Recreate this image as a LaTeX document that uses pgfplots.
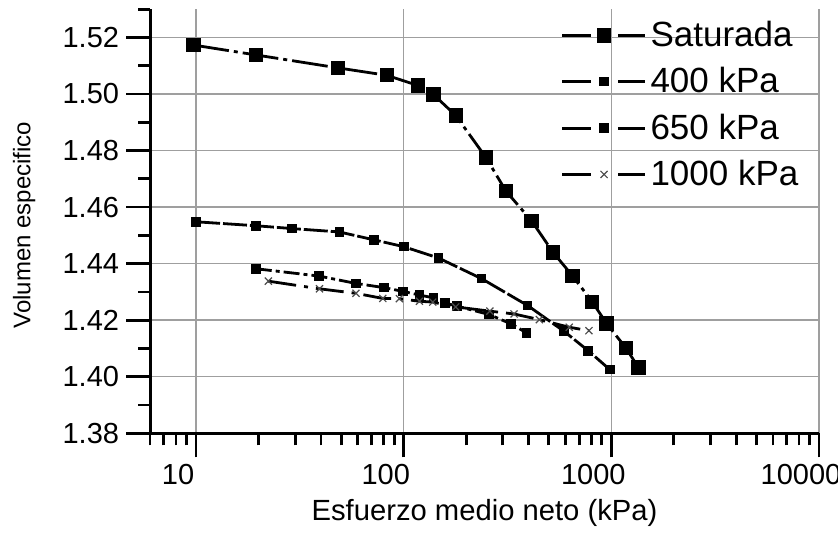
\documentclass[border=0pt]{standalone}
\usepackage{fontspec}
\setmainfont{Liberation Sans}
\usepackage{pgfplots}
\pgfplotsset{compat=1.18}
\begin{document}
\begin{tikzpicture}
\useasboundingbox (-75pt,-52.35pt) rectangle (344pt,216.65pt);
\begin{semilogxaxis}[
 at={(0,0)}, anchor=south west,
 scale only axis, width=334.5pt, height=212.1pt,
 xmin=6, xmax=10000, ymin=1.38, ymax=1.53,
 axis lines*=left,
 axis line style={line width=1.5pt},
 tick align=outside,
 major tick length=12pt, minor tick length=6pt,
 every tick/.style={black, line width=1.4pt},
 xtick={10,100,1000,10000}, xticklabels={10,100,1000,10000},
 minor xtick={6,7,8,9,20,30,40,50,60,70,80,90,200,300,400,500,600,700,800,900,2000,3000,4000,5000,6000,7000,8000,9000},
 ytick={1.38,1.40,1.42,1.44,1.46,1.48,1.50,1.52},
 minor ytick={1.39,1.41,1.43,1.45,1.47,1.49,1.51,1.53},
 yticklabel style={/pgf/number format/.cd, fixed, fixed zerofill, precision=2},
 /pgf/number format/assume math mode=true,
 ticklabel style={font=\fontsize{14.5}{16}\selectfont},
 xticklabel style={xshift=-9pt},
 grid=major,
 major grid style={gray!75, line width=0.7pt},
 xlabel={Esfuerzo medio neto (kPa)},
 x label style={at={(axis description cs:0.5,-0.188)}, anchor=center, font=\fontsize{14.6}{17}\selectfont},
 ylabel={Volumen especifico},
 y label style={at={(axis description cs:-0.188,0.491)}, anchor=center, font=\fontsize{12}{14}\selectfont},
 legend style={at={(axis description cs:0.613,0.982)}, anchor=north west, draw=none, fill=none,
   font=\fontsize{17.5}{20}\selectfont, row sep=5pt, inner sep=0pt},
 legend cell align=left,
 legend image code/.code={
   \draw[#1, solid, line width=1.5pt] (0pt,0pt) -- (14.5pt,0pt);
   \draw[#1, solid, line width=1.5pt] (28pt,0pt) -- (41.5pt,0pt);
   \draw[#1, only marks] plot coordinates {(21pt,0pt)};
 },
]
\addplot[black, line width=1.4pt, dash pattern=on 18pt off 2.5pt on 2pt off 2.5pt,
  mark=square*, mark size=2.9pt, mark options={solid}] coordinates {
(9.7,1.5173) (19.4,1.5138) (48.4,1.5092) (82.8,1.5066) (117,1.5030) (139,1.4998)
(178,1.4924) (249,1.4775) (311,1.4656) (413,1.4551) (525,1.4439) (651,1.4356)
(809,1.4265) (948,1.4188) (1175,1.4102) (1348,1.4033)};
\addlegendentry{Saturada}
\addplot[black, line width=1.4pt, dash pattern=on 12pt off 1.5pt,
  mark=square*, mark size=1.7pt, mark options={solid}] coordinates {
(10,1.4548) (19.4,1.4534) (29,1.4524) (49,1.4512) (72,1.4484) (100,1.4460)
(147,1.4420) (237,1.4347) (395,1.4252) (591,1.4161) (774,1.4092) (984,1.4025)};
\addlegendentry{400 kPa}
\addplot[black, line width=1.4pt, dash pattern=on 8pt off 2pt on 2pt off 2pt,
  mark=square*, mark size=1.7pt, mark options={solid}] coordinates {
(19.4,1.4382) (39.1,1.4356) (58.9,1.4330) (80.6,1.4315) (98.9,1.4302) (119,1.4289)
(139,1.4279) (158,1.4261) (180,1.4250) (258,1.4220) (329,1.4187) (391,1.4155)};
\addlegendentry{650 kPa}
\addplot[black, line width=1.4pt, dash pattern=on 14pt off 4pt on 2pt off 4pt,
  mark=x, mark size=2.5pt, mark options={solid, line width=0.6pt, draw=gray!60!black}] coordinates {
(22.3,1.4338) (39.3,1.4311) (58.9,1.4295) (79.3,1.4277) (95.3,1.4276) (119,1.4267)
(138,1.4264) (178,1.4247) (260,1.4232) (340,1.4222) (450,1.4202) (627,1.4175) (780,1.4163)};
\addlegendentry{1000 kPa}
\end{semilogxaxis}
\end{tikzpicture}
\end{document}
